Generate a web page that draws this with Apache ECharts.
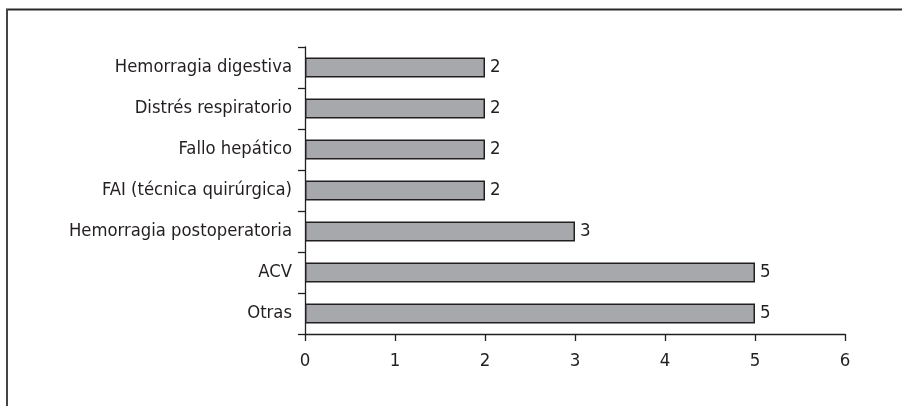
<!DOCTYPE html>
<html><head><meta charset="utf-8">
<script src="https://cdn.jsdelivr.net/npm/echarts@6/dist/echarts.min.js"></script>
<style>html,body{margin:0;padding:0;background:#fff}#c{width:902px;height:406px}</style>
</head><body><div id="c"></div>
<script>
const categories = ['Hemorragia digestiva','Distrés respiratorio','Fallo hepático','FAI (técnica quirúrgica)','Hemorragia postoperatoria','ACV','Otras'];
const values = [2,2,2,2,3,5,5];
const xTicks = [0,1,2,3,4,5,6];
const FONT = '"DejaVu Sans Condensed","Liberation Sans Narrow",sans-serif';
const ink = '#231f20';
const chart = echarts.init(document.getElementById('c'), null, {renderer:'canvas'});
chart.setOption({
  animation:false,
  graphic:[
    {type:'line', shape:{x1:6,y1:9.5,x2:902,y2:9.5}, style:{stroke:'#2a2a2a',lineWidth:2}},
    {type:'line', shape:{x1:7,y1:9,x2:7,y2:406}, style:{stroke:'#444',lineWidth:2}}
  ],
  grid:{left:305,right:57,top:47,bottom:72,containLabel:false},
  xAxis:{type:'value',min:xTicks[0],max:xTicks[xTicks.length-1],interval:1,
    axisLine:{show:true,lineStyle:{color:ink,width:1.3}},
    axisTick:{show:true,length:7,lineStyle:{color:ink,width:1.3}},
    splitLine:{show:false},
    axisLabel:{color:ink,fontFamily:FONT,fontSize:18.5,margin:18}
  },
  yAxis:{type:'category',data:categories,inverse:true,
    axisLine:{show:true,lineStyle:{color:ink,width:1.3}},
    axisTick:{show:true,length:7,alignWithLabel:false,lineStyle:{color:ink,width:1.3}},
    axisLabel:{color:ink,fontFamily:FONT,fontSize:18.3,margin:13}
  },
  series:[{type:'bar',data:values,barWidth:20,
    itemStyle:{color:'#a7a8ab',borderColor:ink,borderWidth:1.5},
    label:{show:true,position:'right',distance:5,color:ink,fontFamily:FONT,fontSize:18.5}
  }]
});
</script></body></html>
